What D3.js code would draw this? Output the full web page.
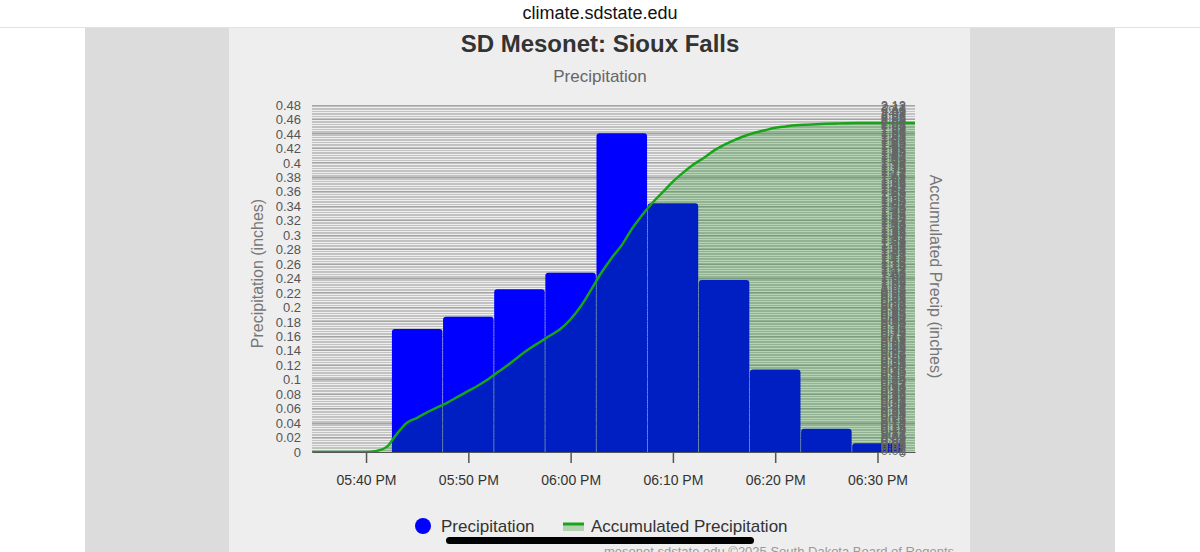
<!DOCTYPE html>
<html>
<head>
<meta charset="utf-8">
<script src="https://cdn.jsdelivr.net/npm/d3@7"></script>
<style>
  html, body { margin: 0; padding: 0; background: #fff; }
  svg { display: block; font-family: "Liberation Sans", Arial, sans-serif; }
</style>
</head>
<body>
<div id="chart"></div>
<script>
// 5-minute precipitation totals (inches), bar centred on the time
var barTimes = ["17:45", "17:50", "17:55", "18:00", "18:05", "18:10", "18:15", "18:20", "18:25", "18:30"];
var barValues = [0.17, 0.187, 0.225, 0.248, 0.441, 0.344, 0.238, 0.114, 0.032, 0.012];

// accumulated precipitation, one reading per minute from 17:34
var accumStart = "17:34";
var accumValues = [0, 0, 0, 0, 0, 0, 0,
  0.006, 0.03, 0.11, 0.18, 0.21, 0.245, 0.275, 0.305, 0.34, 0.375,
  0.41, 0.45, 0.495, 0.54, 0.59, 0.635, 0.675, 0.715, 0.755, 0.815,
  0.895, 0.995, 1.10, 1.19, 1.27, 1.37, 1.455, 1.53, 1.595, 1.66,
  1.715, 1.765, 1.805, 1.85, 1.885, 1.915, 1.94, 1.96, 1.975, 1.99,
  1.998, 2.005, 2.009, 2.012, 2.015, 2.017, 2.018, 2.019,
  2.02, 2.02, 2.02, 2.02, 2.02, 2.02];

var xTicks = ["17:40", "17:50", "18:00", "18:10", "18:20", "18:30"];
var leftTicks = [0, 0.02, 0.04, 0.06, 0.08, 0.1, 0.12, 0.14, 0.16, 0.18, 0.2, 0.22, 0.24,
  0.26, 0.28, 0.3, 0.32, 0.34, 0.36, 0.38, 0.4, 0.42, 0.44, 0.46, 0.48];
var rightTickMax = 2.13, rightTickStep = 0.01;
var xDomain = ["17:34:43", "18:33:40"];

var W = 1200, H = 552;
var margin = {top: 105, right: 285, bottom: 100, left: 312},
    width = W - margin.left - margin.right,
    height = H - margin.top - margin.bottom;

var parseHM = d3.timeParse("%H:%M"), parseHMS = d3.timeParse("%H:%M:%S");
var accumData = accumValues.map(function(v, i) {
  return {t: d3.timeMinute.offset(parseHM(accumStart), i), v: v};
});
var barData = barTimes.map(function(t, i) { return {t: parseHM(t), v: barValues[i]}; });
var rightTicks = d3.range(0, Math.round(rightTickMax / rightTickStep) + 1).map(function(i) {
  return +(i * rightTickStep).toFixed(2);
});
var plain = function(d) { return String(d); };

var svg = d3.select("#chart").append("svg").attr("width", W).attr("height", H);

// page chrome: address bar, grey gutter, chart panel
svg.append("rect").attr("width", W).attr("height", H).attr("fill", "#fff");
svg.append("rect").attr("x", 85).attr("y", 28).attr("width", 1030).attr("height", H - 28).attr("fill", "#dcdcdc");
svg.append("rect").attr("x", 229).attr("y", 28).attr("width", 741).attr("height", H - 28).attr("fill", "#eeeeee");
svg.append("line").attr("x1", 0).attr("x2", W).attr("y1", 27.5).attr("y2", 27.5).attr("stroke", "#e2e2e2");
svg.append("text").attr("x", 600).attr("y", 19).attr("text-anchor", "middle")
  .attr("font-size", 18).attr("fill", "#111").text("climate.sdstate.edu");

svg.append("text").attr("x", 600).attr("y", 52).attr("text-anchor", "middle")
  .attr("font-size", 24).attr("font-weight", "bold").attr("fill", "#333").text("SD Mesonet: Sioux Falls");
svg.append("text").attr("x", 600).attr("y", 82).attr("text-anchor", "middle")
  .attr("font-size", 17).attr("fill", "#666").text("Precipitation");

var x = d3.scaleTime().domain(xDomain.map(parseHMS)).range([0, width]);
var y = d3.scaleLinear().domain([0, 0.48]).range([height, 0]);
var y2 = d3.scaleLinear().domain([0, rightTickMax]).range([height, 0]);

var g = svg.append("g").attr("transform", "translate(" + margin.left + "," + margin.top + ")");

g.append("clipPath").attr("id", "plot").append("rect").attr("width", width).attr("height", height);

// grid lines for both axes
g.append("g").attr("class", "grid2").selectAll("line").data(rightTicks).enter().append("line")
  .attr("x1", 0).attr("x2", width)
  .attr("y1", function(d) { return y2(d); }).attr("y2", function(d) { return y2(d); })
  .attr("stroke", "#c2c2c2").attr("shape-rendering", "crispEdges");
g.append("g").attr("class", "grid").selectAll("line").data(leftTicks).enter().append("line")
  .attr("x1", 0).attr("x2", width)
  .attr("y1", function(d) { return y(d); }).attr("y2", function(d) { return y(d); })
  .attr("stroke", "#a4a4a4").attr("shape-rendering", "crispEdges");

// bars with rounded tops
var half = 2.5 * 60 * 1000;
g.append("g").selectAll("path").data(barData).enter().append("path")
  .attr("fill", "#0000ff")
  .attr("d", function(d) {
    var x0 = x(new Date(+d.t - half)) + 0.3, x1 = x(new Date(+d.t + half)) - 0.3,
        y0 = y(d.v), yb = y(0), r = 3;
    return "M" + x0 + "," + yb + "V" + (y0 + r) + "Q" + x0 + "," + y0 + " " + (x0 + r) + "," + y0 +
      "H" + (x1 - r) + "Q" + x1 + "," + y0 + " " + x1 + "," + (y0 + r) + "V" + yb + "Z";
  });

// accumulated area + line
var area = d3.area().curve(d3.curveMonotoneX)
  .x(function(d) { return x(d.t); }).y0(height).y1(function(d) { return y2(d.v); });
var line = d3.line().curve(d3.curveMonotoneX)
  .x(function(d) { return x(d.t); }).y(function(d) { return y2(d.v); });

g.append("path").datum(accumData).attr("clip-path", "url(#plot)")
  .attr("fill", "#008000").attr("fill-opacity", 0.24).attr("d", area);
g.append("path").datum(accumData).attr("clip-path", "url(#plot)")
  .attr("fill", "none").attr("stroke", "#18a418").attr("stroke-width", 2.5).attr("d", line);

// x axis
var xAxis = g.append("g").attr("transform", "translate(0," + height + ")")
  .call(d3.axisBottom(x).tickValues(xTicks.map(parseHM)).tickFormat(d3.timeFormat("%I:%M %p"))
    .tickSizeInner(11).tickSizeOuter(0).tickPadding(12));
xAxis.select(".domain").attr("stroke", "#555");
xAxis.selectAll(".tick line").attr("stroke", "#555").attr("stroke-width", 1.5);
xAxis.selectAll("text").attr("font-size", 14).attr("fill", "#333").attr("font-family", null);

// left axis
var yAxis = g.append("g")
  .call(d3.axisLeft(y).tickValues(leftTicks).tickFormat(plain).tickSize(0).tickPadding(11));
yAxis.select(".domain").remove();
yAxis.selectAll("text").attr("font-size", 13).attr("fill", "#555").attr("font-family", null);

// right axis (labels sit inside the plot edge)
var y2Axis = g.append("g").attr("transform", "translate(" + width + ",0)")
  .call(d3.axisLeft(y2).tickValues(rightTicks).tickFormat(plain).tickSize(0).tickPadding(9));
y2Axis.select(".domain").remove();
y2Axis.selectAll("text").attr("font-size", 13).attr("fill", "#666").attr("font-family", null);

svg.append("text").attr("transform", "translate(263," + (margin.top + height / 2 - 5) + ") rotate(-90)")
  .attr("text-anchor", "middle").attr("font-size", 16).attr("fill", "#777").text("Precipitation (inches)");
svg.append("text").attr("transform", "translate(930," + (margin.top + height / 2 - 2) + ") rotate(90)")
  .attr("text-anchor", "middle").attr("font-size", 16).attr("fill", "#777").text("Accumulated Precip (inches)");

// legend
var legend = svg.append("g").attr("transform", "translate(0,526)");
legend.append("circle").attr("cx", 423).attr("cy", 0).attr("r", 8).attr("fill", "#0000ff");
legend.append("text").attr("x", 441).attr("y", 6).attr("font-size", 17).attr("fill", "#333").text("Precipitation");
legend.append("rect").attr("x", 563).attr("y", -2).attr("width", 21).attr("height", 7)
  .attr("fill", "#008000").attr("fill-opacity", 0.25);
legend.append("line").attr("x1", 563).attr("x2", 584).attr("y1", -2).attr("y2", -2)
  .attr("stroke", "#18a418").attr("stroke-width", 3);
legend.append("text").attr("x", 591).attr("y", 6).attr("font-size", 17).attr("fill", "#333").text("Accumulated Precipitation");

svg.append("text").attr("x", 954).attr("y", 556).attr("text-anchor", "end")
  .attr("font-size", 13).attr("fill", "#999").text("mesonet.sdstate.edu \u00a92025 South Dakota Board of Regents");

// phone home indicator
svg.append("rect").attr("x", 446).attr("y", 537).attr("width", 308).attr("height", 7)
  .attr("rx", 3.5).attr("fill", "#000");
</script>
</body>
</html>
